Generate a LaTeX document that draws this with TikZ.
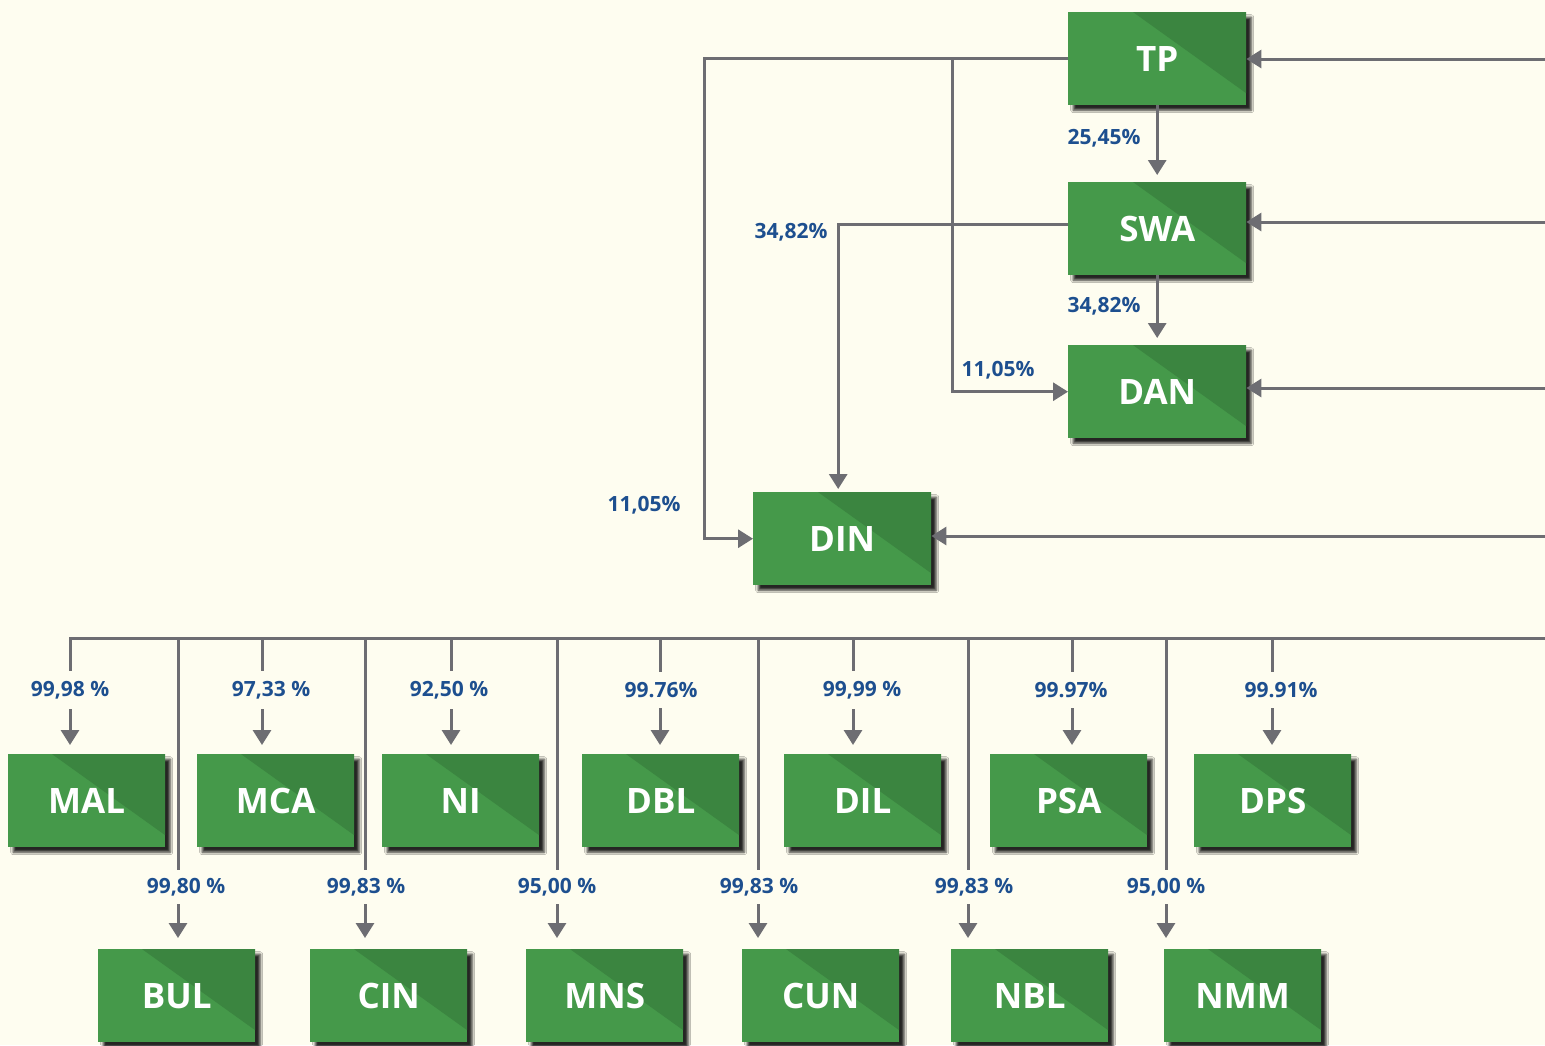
\documentclass[tikz,border=0pt]{standalone}
\usepackage{fontspec}
\setmainfont{Open Sans}
\usetikzlibrary{arrows.meta,shadows.blur,calc}
\definecolor{bg}{HTML}{FEFDF0}
\definecolor{lgreen}{HTML}{45994A}
\definecolor{dgreen}{HTML}{3B8540}
\definecolor{lgray}{HTML}{6D6D72}
\definecolor{lblue}{HTML}{1D4F8F}
\tikzset{
  box/.style={fill=lgreen, anchor=north west, minimum height=93pt, inner sep=0pt,
    text=white, font=\bfseries\fontsize{35}{40}\selectfont,
    blur shadow={shadow xshift=5pt, shadow yshift=-5pt, shadow blur radius=2.5pt, shadow opacity=85},
    path picture={\fill[dgreen] (path picture bounding box.north east) -- ++(-113pt,0pt)
      -- ($(path picture bounding box.south east)+(0pt,12pt)$) -- cycle;}},
  wide/.style={box, minimum width=178pt},
  narrow/.style={box, minimum width=157pt},
  conn/.style={draw=lgray, line width=3pt},
  arr/.style={conn, -{Triangle[length=15pt,width=18pt]}},
  lbl/.style={text=lblue, font=\bfseries\fontsize{21}{24}\selectfont, inner sep=1pt},
  lblA/.style={lbl, fill=bg, inner ysep=10pt},
  lblB/.style={lbl, fill=bg, inner ysep=8pt},
}
\begin{document}
\begin{tikzpicture}[x=1pt,y=-1pt]
\fill[bg] (0,0) rectangle (1545,1045);
\useasboundingbox (0,0) rectangle (1545,1045);

% upper boxes
\node[wide] (tp)  at (1068,12)  {TP};
\node[wide] (swa) at (1068,182) {SWA};
\node[wide] (dan) at (1068,345) {DAN};
\node[wide] (din) at (753,492)  {DIN};

% row 1
\node[narrow] (mal) at (8,754)    {MAL};
\node[narrow] (mca) at (197,754)  {MCA};
\node[narrow] (ni)  at (382,754)  {NI};
\node[narrow] (dbl) at (582,754)  {DBL};
\node[narrow] (dil) at (784,754)  {DIL};
\node[narrow] (psa) at (990,754)  {PSA};
\node[narrow] (dps) at (1194,754) {DPS};

% row 2
\node[narrow] (bul) at (98,949)   {BUL};
\node[narrow] (cin) at (310,949)  {CIN};
\node[narrow] (mns) at (526,949)  {MNS};
\node[narrow] (cun) at (742,949)  {CUN};
\node[narrow] (nbl) at (951,949)  {NBL};
\node[narrow] (nmm) at (1164,949) {NMM};

% coordinates
\coordinate (r1) at (1545,59);
\coordinate (r2) at (1545,222);
\coordinate (r3) at (1545,388);
\coordinate (r4) at (1545,536);
\coordinate (j1) at (952,59);
\coordinate (s1) at (1068,224);
\coordinate (bR) at (1545,638);
\coordinate (b0) at (70,638);
\coordinate (b1) at (262,638);
\coordinate (b2) at (451,638);
\coordinate (b3) at (660,638);
\coordinate (b4) at (853,638);
\coordinate (b5) at (1072,638);
\coordinate (b6) at (1272,638);
\coordinate (e0) at (178,638);
\coordinate (e1) at (365,638);
\coordinate (e2) at (557,638);
\coordinate (e3) at (758,638);
\coordinate (e4) at (968,638);
\coordinate (e5) at (1166,638);

% upper connectors
\draw[arr] (tp.west) -| ($(din.west)+(-49,0)$) -- (din.west);
\draw[arr] (j1) |- (dan.west);
\draw[arr, shorten >=7pt] (tp.south) -- (swa.north);
\draw[arr, shorten >=3pt] (s1) -| ($(din.north)+(-4,0)$);
\draw[arr, shorten >=7pt] (swa.south) -- (dan.north);
\draw[arr] (r1) -- (r1 -| tp.east);
\draw[arr] (r2) -- (r2 -| swa.east);
\draw[arr] (r3) -- (r3 -| dan.east);
\draw[arr] (r4) -- (r4 -| din.east);

% bus and drops
\draw[arr, shorten >=9pt] (bR) -- (b0) -- (b0 |- mal.north);
\draw[arr, shorten >=9pt] (b1) -- (b1 |- mca.north);
\draw[arr, shorten >=9pt] (b2) -- (b2 |- ni.north);
\draw[arr, shorten >=9pt] (b3) -- (b3 |- dbl.north);
\draw[arr, shorten >=9pt] (b4) -- (b4 |- dil.north);
\draw[arr, shorten >=9pt] (b5) -- (b5 |- psa.north);
\draw[arr, shorten >=9pt] (b6) -- (b6 |- dps.north);
\draw[arr, shorten >=11pt] (e0) -- (e0 |- bul.north);
\draw[arr, shorten >=11pt] (e1) -- (e1 |- cin.north);
\draw[arr, shorten >=11pt] (e2) -- (e2 |- mns.north);
\draw[arr, shorten >=11pt] (e3) -- (e3 |- cun.north);
\draw[arr, shorten >=11pt] (e4) -- (e4 |- nbl.north);
\draw[arr, shorten >=11pt] (e5) -- (e5 |- nmm.north);

% upper labels
\node[lbl] (l1) at (644,505)  {11,05\%};
\node[lbl] (l2) at (998,370)  {11,05\%};
\node[lbl] (l3) at (1104,138) {25,45\%};
\node[lbl] (l4) at (791,232)  {34,82\%};
\node[lbl] (l5) at (1104,306) {34,82\%};

% row 1 labels
\node[lblA] (m0) at (70,690)   {99,98 \%};
\node[lblA] (m1) at (271,690)  {97,33 \%};
\node[lblA] (m2) at (449,690)  {92,50 \%};
\node[lblA] (m3) at (661,690)  {99.76\%};
\node[lblA] (m4) at (862,690)  {99,99 \%};
\node[lblA] (m5) at (1071,690) {99.97\%};
\node[lblA] (m6) at (1281,690) {99.91\%};

% row 2 labels
\node[lblB] (n0) at (186,887)  {99,80 \%};
\node[lblB] (n1) at (366,887)  {99,83 \%};
\node[lblB] (n2) at (557,887)  {95,00 \%};
\node[lblB] (n3) at (759,887)  {99,83 \%};
\node[lblB] (n4) at (974,887)  {99,83 \%};
\node[lblB] (n5) at (1166,887) {95,00 \%};
\end{tikzpicture}
\end{document}
